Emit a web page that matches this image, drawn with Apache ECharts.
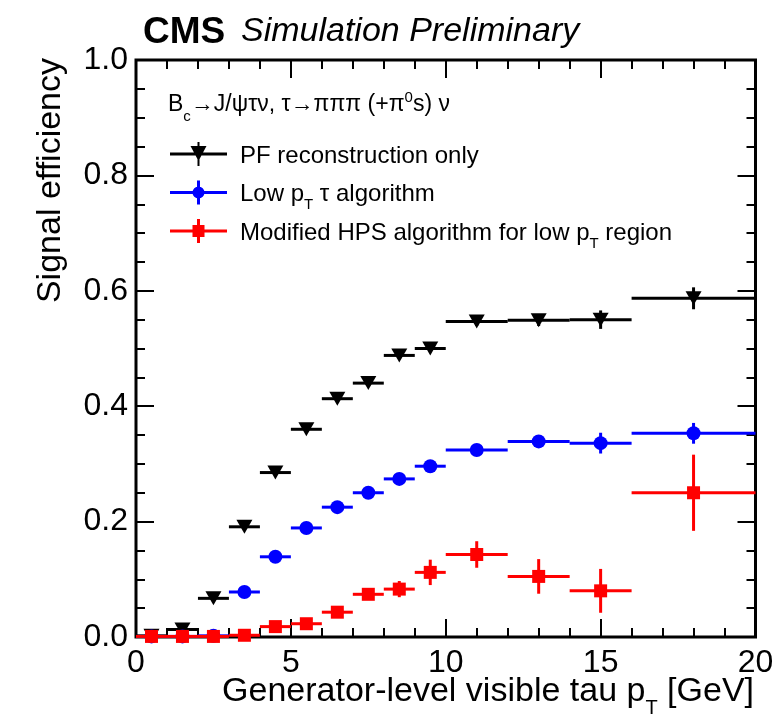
<!DOCTYPE html>
<html>
<head>
<meta charset="utf-8">
<script src="https://cdn.jsdelivr.net/npm/echarts@6/dist/echarts.min.js"></script>
<style>
  html, body { margin: 0; padding: 0; background: #fff; }
  #chart { width: 779px; height: 728px; }
</style>
</head>
<body>
<div id="chart"></div>
<script>
// Generator-level visible tau pT bins [GeV]
const binLow  = [0, 1, 2, 3, 4, 5, 6, 7, 8, 9, 10, 12, 14, 16];
const binHigh = [1, 2, 3, 4, 5, 6, 7, 8, 9, 10, 12, 14, 16, 20];

// PF reconstruction only
const pfEff = [0.002, 0.013, 0.067, 0.191, 0.285, 0.360, 0.413, 0.440, 0.488, 0.500, 0.547, 0.549, 0.550, 0.587];
const pfErr = [0.003, 0.004, 0.004, 0.005, 0.005, 0.005, 0.005, 0.005, 0.006, 0.006, 0.008, 0.010, 0.016, 0.019];

// Low pT tau algorithm
const lowPtEff = [0.001, 0.001, 0.002, 0.078, 0.139, 0.189, 0.225, 0.250, 0.274, 0.296, 0.324, 0.339, 0.336, 0.353];
const lowPtErr = [0.002, 0.002, 0.002, 0.004, 0.004, 0.004, 0.005, 0.005, 0.005, 0.006, 0.007, 0.010, 0.018, 0.018];

// Modified HPS algorithm for low pT region
const hpsEff = [0.001, 0.001, 0.001, 0.003, 0.018, 0.023, 0.043, 0.074, 0.083, 0.112, 0.143, 0.105, 0.080, 0.250];
const hpsErr = [0.002, 0.002, 0.002, 0.003, 0.005, 0.006, 0.006, 0.009, 0.014, 0.022, 0.023, 0.030, 0.038, 0.066];

// Axis ranges and tick spacing
const xRange = [0, 20], xMajor = 5, xMinor = 1;
const yRange = [0, 1], yMajor = 0.2, yMinor = 0.05;

const FONT = '"Liberation Sans", Arial, Helvetica, sans-serif';

function points(eff, err) {
  return eff.map((v, i) => [
    (binLow[i] + binHigh[i]) / 2, v,
    (binHigh[i] - binLow[i]) / 2, err[i]
  ]);
}

// Horizontal bin-width bar plus vertical uncertainty bar
function renderErrorBar(params, api) {
  const x = api.value(0), y = api.value(1), hw = api.value(2), e = api.value(3);
  const l = api.coord([x - hw, y]), r = api.coord([x + hw, y]);
  const t = api.coord([x, y + e]), b = api.coord([x, y - e]);
  const style = { stroke: api.visual('color'), lineWidth: 3, fill: null };
  return {
    type: 'group',
    children: [
      { type: 'line', shape: { x1: l[0], y1: l[1], x2: r[0], y2: r[1] }, style },
      { type: 'line', shape: { x1: t[0], y1: t[1], x2: b[0], y2: b[1] }, style }
    ]
  };
}

// Legend glyphs: bar + marker in the top 24px of a 40px box, so the marker sits
// slightly above the middle of the label text. The last sub-path is a tiny anchor
// that fixes the box height.
const ICON_ANCHOR = ' M28 39.96H28.04V40H28Z';
const SERIES = [
  { name: 'PF reconstruction only', color: '#000000', eff: pfEff, err: pfErr,
    symbol: 'triangle', size: [16, 14], rotate: 180,
    icon: 'path://M0 10.5H57V13.5H0Z M27.5 0H29.5V24H27.5Z M20.5 4H36.5L28.5 19Z' + ICON_ANCHOR },
  { name: 'Low pT τ algorithm', color: '#0000ff', eff: lowPtEff, err: lowPtErr,
    symbol: 'circle', size: 14, rotate: 0,
    icon: 'path://M0 10.5H57V13.5H0Z M27 0H30V24H27Z M28.5 6A6 6 0 1 1 28.49 6Z' + ICON_ANCHOR },
  { name: 'Modified HPS algorithm for low pT region', color: '#ff0000', eff: hpsEff, err: hpsErr,
    symbol: 'rect', size: 13, rotate: 0,
    icon: 'path://M0 10.5H57V13.5H0Z M27 0H30V24H27Z M22.5 6H34.5V18H22.5Z' + ICON_ANCHOR }
];

const legendLabels = {
  'PF reconstruction only': '{n|PF reconstruction only}',
  'Low pT τ algorithm': '{n|Low p}{s|T}{n| τ algorithm}',
  'Modified HPS algorithm for low pT region': '{n|Modified HPS algorithm for low p}{s|T}{n| region}'
};

const series = [];
SERIES.forEach((s, k) => {
  const data = points(s.eff, s.err);
  series.push({
    name: s.name, type: 'custom', renderItem: renderErrorBar,
    xAxisIndex: 0, yAxisIndex: 0,
    data: data, itemStyle: { color: s.color }, clip: false, z: 2 + 2 * k, silent: true
  });
  series.push({
    name: s.name, type: 'scatter', data: data.map(d => [d[0], d[1]]),
    xAxisIndex: 0, yAxisIndex: 0,
    symbol: s.symbol, symbolSize: s.size, symbolRotate: s.rotate,
    itemStyle: { color: s.color, opacity: 1, borderWidth: 0 },
    clip: false, z: 3 + 2 * k, silent: true
  });
});

// One axis per tick size and side: long major ticks, short minor ticks, all pointing inward.
// onZero is off so the top/right axes stay on the frame edges.
function tickAxis(range, interval, position, len, label) {
  return {
    type: 'value', min: range[0], max: range[1], interval, position,
    axisLine: { show: false, onZero: false },
    axisTick: { show: true, inside: true, length: len, lineStyle: { color: '#000', width: 2 } },
    splitLine: { show: false },
    axisLabel: label || { show: false }
  };
}

const tickFont = { fontSize: 32, color: '#000', fontFamily: FONT };

const legendRich = {
  n: { fontSize: 24, lineHeight: 24, padding: [10, 0, 6, 0], verticalAlign: 'bottom', fontFamily: FONT, color: '#000' },
  s: { fontSize: 15, lineHeight: 20, verticalAlign: 'bottom', fontFamily: FONT, color: '#000' }
};
const headRich = {
  n: { fontSize: 23, lineHeight: 24, padding: [4, 0, 8, 0], verticalAlign: 'bottom', fontFamily: FONT, color: '#000' },
  s: { fontSize: 15, lineHeight: 24, verticalAlign: 'bottom', fontFamily: FONT, color: '#000' },
  u: { fontSize: 15, lineHeight: 24, padding: [0, 0, 19, 0], verticalAlign: 'bottom', fontFamily: FONT, color: '#000' }
};

const option = {
  animation: false,
  backgroundColor: '#ffffff',
  grid: {
    left: 136, right: 23.5, top: 60, bottom: 91,
    show: true, borderColor: '#000', borderWidth: 3, backgroundColor: 'transparent',
    containLabel: false, outerBoundsMode: 'none'
  },
  xAxis: [
    tickAxis(xRange, xMajor, 'bottom', 18,
      Object.assign({ show: true, margin: 10, formatter: v => String(v) }, tickFont)),
    tickAxis(xRange, xMinor, 'bottom', 9),
    tickAxis(xRange, xMajor, 'top', 18),
    tickAxis(xRange, xMinor, 'top', 9)
  ],
  yAxis: [
    tickAxis(yRange, yMajor, 'left', 18,
      Object.assign({ show: true, margin: 8, formatter: v => v.toFixed(1) }, tickFont)),
    tickAxis(yRange, yMinor, 'left', 9),
    tickAxis(yRange, yMajor, 'right', 18),
    tickAxis(yRange, yMinor, 'right', 9)
  ],
  legend: {
    left: 170, top: 134, orient: 'vertical', padding: 0,
    itemWidth: 57, itemHeight: 40, itemGap: -9.5,
    selectedMode: false,
    data: SERIES.map(s => ({ name: s.name, icon: s.icon, itemStyle: { color: s.color, borderWidth: 0 } })),
    formatter: name => legendLabels[name],
    textStyle: {
      fontFamily: FONT, fontSize: 24, color: '#000', padding: [0, 0, 0, 8],
      rich: legendRich
    }
  },
  graphic: [
    { type: 'text', left: 143, top: 14,
      style: { text: 'CMS', font: 'bold 37px ' + FONT, fill: '#000' } },
    { type: 'text', left: 241, top: 15,
      style: { text: 'Simulation Preliminary', font: 'italic 34px ' + FONT, fill: '#000' } },
    { type: 'text', left: 168, top: 89,
      style: { text: '{n|B}{s|c}{n|→J/ψτν, τ→πππ (+π}{u|0}{n|s) ν}', rich: headRich } },
    { type: 'text', right: 25, top: 675,
      style: { text: '{n|Generator-level visible tau p}{s|T}{n| [GeV]}',
        rich: {
          n: { fontSize: 34, lineHeight: 36, padding: [0, 0, 9, 0], verticalAlign: 'bottom', fontFamily: FONT, color: '#000' },
          s: { fontSize: 20, lineHeight: 36, verticalAlign: 'bottom', fontFamily: FONT, color: '#000' }
        } } },
    { type: 'text', x: 51, y: 58, rotation: Math.PI / 2,
      style: { text: 'Signal efficiency', font: '34px ' + FONT, fill: '#000', align: 'right', verticalAlign: 'middle' } }
  ],
  series: series
};

const chart = echarts.init(document.getElementById('chart'), null, { renderer: 'canvas' });
chart.setOption(option);
</script>
</body>
</html>
